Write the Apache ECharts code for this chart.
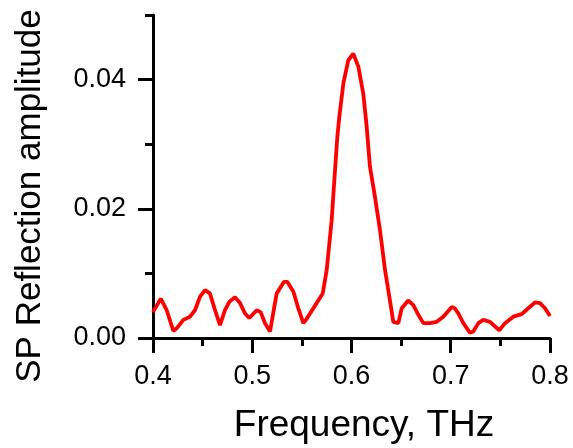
<!DOCTYPE html>
<html>
<head>
<meta charset="utf-8">
<script src="https://cdn.jsdelivr.net/npm/echarts@6/dist/echarts.min.js"></script>
<style>html,body{margin:0;padding:0;background:#fff;}#chart{width:573px;height:448px;}</style>
</head>
<body>
<div id="chart"></div>
<script>
var freq = [0.400,0.4078,0.4138,0.4205,0.4239,0.4306,0.4373,0.4423,0.4474,0.4524,0.4574,0.4625,0.4675,0.4725,0.4769,0.4826,0.4877,0.4927,0.4970,0.5045,0.5085,0.5128,0.5179,0.5246,0.5320,0.5353,0.5414,0.5464,0.5515,0.5549,0.5582,0.5649,0.5710,0.5750,0.5800,0.5834,0.5857,0.5877,0.5918,0.5968,0.6018,0.6069,0.6119,0.6153,0.6186,0.6237,0.6287,0.6338,0.6371,0.6421,0.6472,0.6506,0.6572,0.6623,0.6673,0.6724,0.6791,0.6858,0.6925,0.7010,0.7040,0.7076,0.7127,0.7194,0.7227,0.7278,0.7328,0.7395,0.7489,0.7547,0.7630,0.7715,0.7781,0.7849,0.7899,0.7950,0.8000];
var amplitude = [0.0040,0.0061,0.0043,0.0011,0.0015,0.0028,0.0033,0.0043,0.0064,0.0074,0.0069,0.0043,0.0020,0.0043,0.0056,0.0063,0.0054,0.0038,0.0031,0.0043,0.0040,0.0023,0.0010,0.0069,0.0087,0.0087,0.0072,0.0046,0.0023,0.0030,0.0038,0.0054,0.0069,0.0105,0.0182,0.0260,0.0311,0.0342,0.0394,0.0430,0.0440,0.0420,0.0378,0.0327,0.0265,0.0218,0.0167,0.0105,0.0074,0.0025,0.0023,0.0046,0.0058,0.0051,0.0036,0.0023,0.0023,0.0025,0.0033,0.0048,0.0046,0.0038,0.0023,0.0008,0.0010,0.0023,0.0028,0.0025,0.0012,0.0023,0.0033,0.0037,0.0046,0.0055,0.0054,0.0046,0.0034];
var yMajorTicks = [0, 0.02, 0.04];
var yMinorTicks = [0.01, 0.03, 0.05];
var xTitle = 'Frequency, THz';
var yTitle = 'SP Reflection amplitude';

var FONT = '"Liberation Sans", Arial, Helvetica, sans-serif';
var data = freq.map(function (f, i) { return [f, amplitude[i]]; });

var chart = echarts.init(document.getElementById('chart'), null, {renderer: 'canvas'});
chart.setOption({
  animation: false,
  backgroundColor: '#ffffff',
  grid: {left: 153, right: 23, top: 15, bottom: 110, containLabel: false, outerBoundsMode: 'none'},
  xAxis: {
    type: 'value', min: 0.4, max: 0.8, interval: 0.1,
    axisLine: {show: true, onZero: false, lineStyle: {color: '#000', width: 3}},
    axisTick: {show: true, inside: false, length: 15, lineStyle: {color: '#000', width: 3}},
    minorTick: {show: true, splitNumber: 2, length: 8, lineStyle: {color: '#000', width: 3}},
    axisLabel: {show: true, margin: 25, color: '#000', fontSize: 27, fontFamily: FONT,
      formatter: function (v) { return v.toFixed(1); }},
    splitLine: {show: false}, minorSplitLine: {show: false}
  },
  yAxis: [{
    type: 'value', min: 0, max: 0.05,
    axisLine: {show: true, onZero: false, lineStyle: {color: '#000', width: 3}},
    axisTick: {show: true, inside: false, length: 15, customValues: yMajorTicks, lineStyle: {color: '#000', width: 3}},
    axisLabel: {show: true, margin: 27, color: '#000', fontSize: 27, fontFamily: FONT, customValues: yMajorTicks,
      formatter: function (v) { return v.toFixed(2); }},
    splitLine: {show: false}
  }, {
    type: 'value', min: 0, max: 0.05, position: 'left', offset: 0,
    axisLine: {show: false},
    axisTick: {show: true, inside: false, length: 8, customValues: yMinorTicks, lineStyle: {color: '#000', width: 3}},
    axisLabel: {show: false},
    splitLine: {show: false}
  }],
  graphic: [{
    type: 'text', x: 364, y: 426,
    style: {text: xTitle, font: '37px ' + FONT, fill: '#000', textAlign: 'center', textVerticalAlign: 'middle'}
  }, {
    type: 'text', x: 30, y: 196, rotation: Math.PI / 2,
    style: {text: yTitle, font: '35px ' + FONT, fill: '#000', textAlign: 'center', textVerticalAlign: 'middle'}
  }],
  series: [{
    type: 'line', data: data, yAxisIndex: 0, showSymbol: false, symbol: 'none', smooth: false,
    lineStyle: {color: '#ff0000', width: 3.8}, clip: true
  }]
});
</script>
</body>
</html>
